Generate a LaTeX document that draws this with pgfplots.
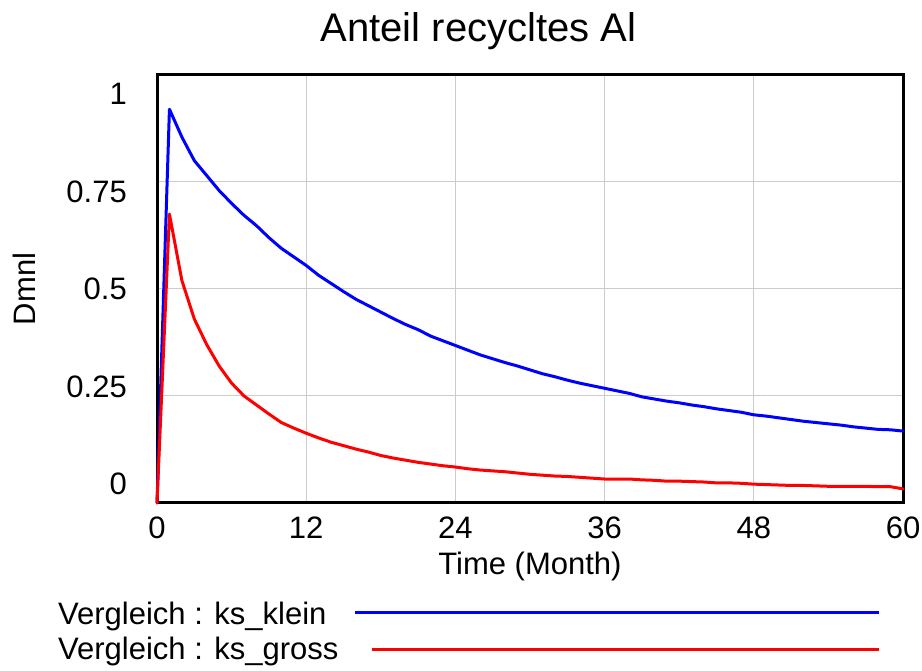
\documentclass[border=0pt]{standalone}
\usepackage{fontspec}
\setmainfont{Liberation Sans}
\usepackage{pgfplots}
\pgfplotsset{compat=1.18}
\newcommand{\tf}{\fontsize{31bp}{37bp}\selectfont}
\begin{document}
\begin{tikzpicture}[x=1bp,y=1bp]
\path[use as bounding box] (0,0) rectangle (922,671);
\begin{axis}[
  at={(157bp,168bp)}, anchor=south west,
  scale only axis, width=746bp, height=428bp,
  xmin=0, xmax=60, ymin=0, ymax=1,
  xtick={0,12,24,36,48,60},
  xticklabels={0,12,24,36,48,60},
  ytick={0.0455,0.2715,0.5,0.7265,0.955},
  yticklabels={0,0.25,0.5,0.75,1},
  minor ytick={0.25,0.5,0.75},
  xmajorgrids, yminorgrids,
  major grid style={draw=gray!40, line width=1bp},
  minor grid style={draw=gray!40, line width=1bp},
  major tick length=0pt, minor tick length=0pt,
  axis line style={line width=3bp, black},
  every tick label/.append style={font=\tf, inner sep=0pt},
  xticklabel style={anchor=north, yshift=-14bp},
  yticklabel style={anchor=east, xshift=-30bp},
  clip=false,
]
\addplot[blue, line width=3bp, line join=round, line cap=round] coordinates {
(0,0) (1,0.92) (2,0.855) (3,0.80) (4,0.765) (5,0.73) (6,0.70) (7,0.672) (8,0.648) (9,0.62) (10,0.595)
(11,0.575) (12,0.555) (13,0.532) (14,0.513) (15,0.494) (16,0.476) (17,0.461) (18,0.446) (19,0.431) (20,0.417)
(21,0.405) (22,0.390) (23,0.379) (24,0.368) (25,0.357) (26,0.346) (27,0.337) (28,0.328) (29,0.320) (30,0.311)
(31,0.302) (32,0.295) (33,0.287) (34,0.280) (35,0.274) (36,0.268) (37,0.262) (38,0.256) (39,0.248) (40,0.243)
(41,0.238) (42,0.234) (43,0.229) (44,0.225) (45,0.220) (46,0.216) (47,0.212) (48,0.206) (49,0.203) (50,0.199)
(51,0.195) (52,0.191) (53,0.188) (54,0.185) (55,0.182) (56,0.178) (57,0.175) (58,0.172) (59,0.171) (60,0.168)
};
\addplot[red, line width=3bp, line join=round, line cap=round] coordinates {
(0,0) (1,0.675) (2,0.52) (3,0.43) (4,0.37) (5,0.32) (6,0.28) (7,0.25) (8,0.229) (9,0.208) (10,0.188)
(11,0.175) (12,0.163) (13,0.152) (14,0.142) (15,0.134) (16,0.126) (17,0.119) (18,0.111) (19,0.105) (20,0.100)
(21,0.095) (22,0.091) (23,0.087) (24,0.084) (25,0.080) (26,0.077) (27,0.075) (28,0.073) (29,0.070) (30,0.067)
(31,0.065) (32,0.063) (33,0.062) (34,0.060) (35,0.058) (36,0.056) (37,0.056) (38,0.056) (39,0.054) (40,0.053)
(41,0.051) (42,0.051) (43,0.050) (44,0.049) (45,0.047) (46,0.047) (47,0.046) (48,0.044) (49,0.043) (50,0.042)
(51,0.041) (52,0.041) (53,0.040) (54,0.039) (55,0.039) (56,0.039) (57,0.039) (58,0.038) (59,0.038) (60,0.033)
};
\end{axis}
\node[anchor=base, inner sep=0pt, font=\fontsize{40bp}{48bp}\selectfont] at (478.5,629) {Anteil recycltes Al};
\node[anchor=base, inner sep=0pt, font=\tf] at (530,96) {Time (Month)};
\node[anchor=base, inner sep=0pt, rotate=90, font=\tf] at (35,382) {Dmnl};
\node[anchor=base west, inner sep=0pt, font=\tf] at (58,46) {Vergleich : ks\_klein};
\node[anchor=base west, inner sep=0pt, font=\tf] at (58,11) {Vergleich : ks\_gross};
\draw[blue, line width=3bp] (355,58) -- (879,58);
\draw[red, line width=3bp] (372,21) -- (879,21);
\end{tikzpicture}
\end{document}
